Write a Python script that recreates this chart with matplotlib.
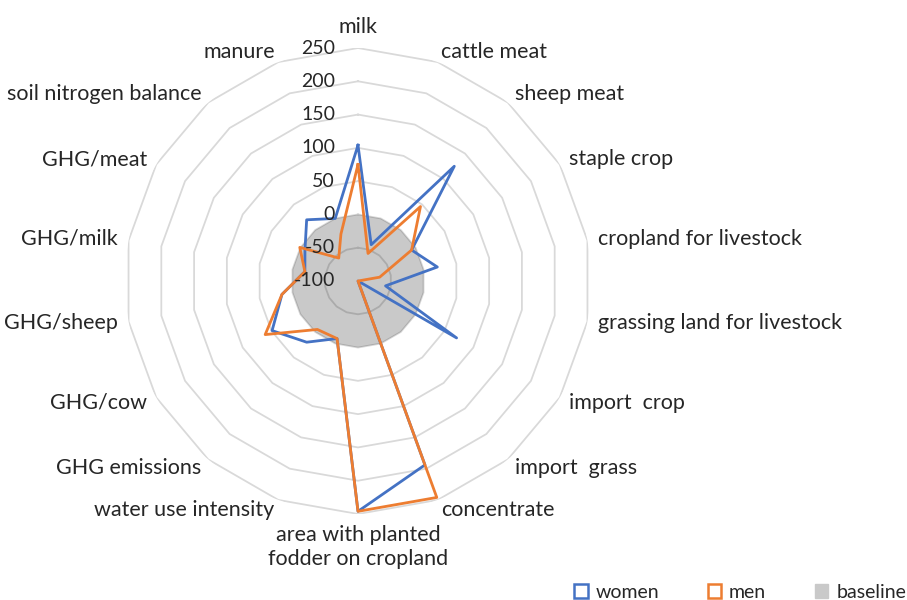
import numpy as np
import matplotlib
matplotlib.use('Agg')
import matplotlib.pyplot as plt
from matplotlib.patches import Patch

plt.rcParams['font.family'] = ['Lato', 'DejaVu Sans']

categories = ['milk', 'cattle meat', 'sheep meat', 'staple crop', 'cropland for livestock',
              'grassing land for livestock', 'import  crop', 'import  grass', 'concentrate',
              'area with planted\nfodder on cropland', 'water use intensity', 'GHG emissions',
              'GHG/cow', 'GHG/sheep', 'GHG/milk', 'GHG/meat', 'soil nitrogen balance', 'manure']
women = [104, -42, 125, -7, 21, -58, 71, -100, 194, 246, -8, 20, 49, 16, -19, -8, 20, 0]
men = [75, -56, 46, -7, -67, -100, -100, -100, 246, 246, -8, -5, 61, 16, -19, 1, -55, -25]
baseline = [0] * 18
ticks = [-100, -50, 0, 50, 100, 150, 200, 250]

blue = '#4472C4'
orange = '#ED7D31'
grey = '#C9C9C9'
txt = '#262626'

n = len(categories)
theta = np.deg2rad(np.arange(n) * 360 / n)
tc = np.append(theta, theta[0])

def close(v):
    return list(v) + [v[0]]

fig = plt.figure(figsize=(9.07, 6), dpi=100)
ax = fig.add_axes([125 / 907, 86 / 600, 466 / 907, 466 / 600], projection='polar')
ax.set_theta_zero_location('N')
ax.set_theta_direction(-1)
ax.set_ylim(-100, 250)
ax.grid(False)
ax.set_xticks([])
ax.set_yticks([])
ax.spines['polar'].set_visible(False)
ax.patch.set_visible(False)

# baseline area
ax.fill(tc, close(baseline), color=grey, lw=0, zorder=1)

# polygon rings
for t in ticks[1:]:
    ax.plot(tc, [t] * (n + 1), color='black', alpha=0.15, lw=1.3, zorder=2)
for t in ticks:
    ax.annotate(str(t), xy=(0, t), xytext=(-16.5, 0), textcoords='offset points',
                ha='right', va='center', fontsize=14, color=txt, zorder=5)

ax.plot(tc, close(women), color=blue, lw=2, zorder=4)
ax.plot(tc, close(men), color=orange, lw=2, zorder=4)

for ang, lab in zip(np.arange(n) * 360 / n, categories):
    if ang == 0:
        ha, va = 'center', 'bottom'
    elif ang == 180:
        ha, va = 'center', 'top'
    elif ang < 180:
        ha, va = 'left', 'center'
    else:
        ha, va = 'right', 'center'
    ax.text(np.deg2rad(ang), 266, lab, ha=ha, va=va, fontsize=15.5, color=txt,
            linespacing=1.3, clip_on=False)

handles = [Patch(facecolor='white', edgecolor=blue, lw=1.8, label='women'),
           Patch(facecolor='white', edgecolor=orange, lw=1.8, label='men'),
           Patch(facecolor=grey, edgecolor=grey, label='baseline')]
fig.legend(handles=handles, loc='center right', bbox_to_anchor=(906 / 907, 8 / 600), ncol=3,
           frameon=False, fontsize=14, handlelength=0.7, handleheight=0.7,
           columnspacing=2.5, handletextpad=0.4, labelcolor=txt,
           borderpad=0, borderaxespad=0)

fig.savefig('out.png', dpi=100)
